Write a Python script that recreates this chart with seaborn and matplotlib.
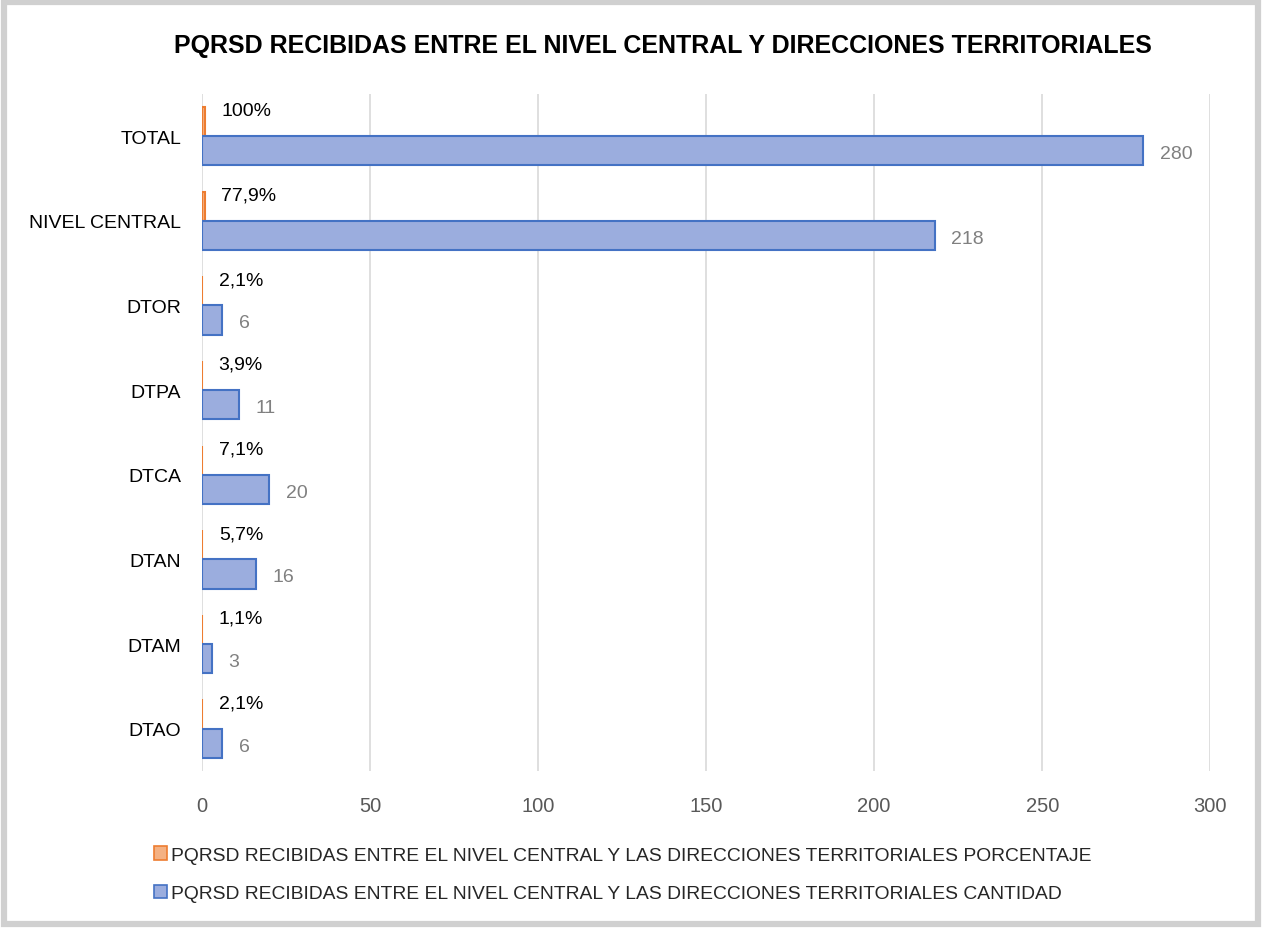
import matplotlib
matplotlib.use("Agg")
import matplotlib.pyplot as plt
import seaborn as sns
import pandas as pd
from matplotlib.patches import Rectangle, Patch

categorias = ["TOTAL", "NIVEL CENTRAL", "DTOR", "DTPA", "DTCA", "DTAN", "DTAM", "DTAO"]
cantidad = [280, 218, 6, 11, 20, 16, 3, 6]
porcentaje = [1.0, 0.779, 0.021, 0.039, 0.071, 0.057, 0.011, 0.021]
etiq_pct = ["100%", "77,9%", "2,1%", "3,9%", "7,1%", "5,7%", "1,1%", "2,1%"]
serie_pct = "PQRSD RECIBIDAS ENTRE EL NIVEL CENTRAL Y LAS DIRECCIONES TERRITORIALES PORCENTAJE"
serie_cant = "PQRSD RECIBIDAS ENTRE EL NIVEL CENTRAL Y LAS DIRECCIONES TERRITORIALES CANTIDAD"

df = pd.DataFrame({
    "cat": categorias * 2,
    "valor": porcentaje + cantidad,
    "serie": [serie_pct] * len(categorias) + [serie_cant] * len(categorias),
})

sns.set_style("white")
plt.rcParams['font.family'] = ['Liberation Sans', 'DejaVu Sans']

fig = plt.figure(figsize=(12.62, 9.29), dpi=100)
ax = fig.add_axes([0.160, 0.169, 0.799, 0.729])

colores = {serie_pct: "#f4b183", serie_cant: "#9badde"}
bordes = {serie_pct: "#ed7d31", serie_cant: "#4472c4"}

sns.barplot(data=df, y="cat", x="valor", hue="serie", hue_order=[serie_pct, serie_cant],
            order=categorias, palette=colores, width=0.69, orient="h", ax=ax,
            legend=False, saturation=1)

for cont, serie in zip(ax.containers, [serie_pct, serie_cant]):
    for b in cont:
        b.set_edgecolor(bordes[serie])
        b.set_linewidth(1.5)

# etiquetas de datos
for b, t in zip(ax.containers[0], etiq_pct):
    ax.annotate(t, (b.get_x() + b.get_width(), b.get_y() + b.get_height() / 2),
                xytext=(12, 8), textcoords="offset points", ha="left", va="center",
                fontsize=14, color="black")
for b, v in zip(ax.containers[1], cantidad):
    ax.annotate(str(v), (b.get_x() + b.get_width(), b.get_y() + b.get_height() / 2),
                xytext=(12, -2), textcoords="offset points", ha="left", va="center",
                fontsize=14, color="#808080")

ax.set_xlim(0, 300)
ax.set_xticks(range(0, 301, 50))
ax.grid(axis="x", color="#d9d9d9", linewidth=1.2)
ax.set_axisbelow(True)
for s in ax.spines.values():
    s.set_visible(False)
ax.set_xlabel("")
ax.set_ylabel("")
ax.tick_params(axis="x", colors="#595959", labelsize=14.5, length=0, pad=18)
ax.tick_params(axis="y", colors="black", labelsize=14, length=0, pad=15)

fig.text(0.5255, 0.951, "PQRSD RECIBIDAS ENTRE EL NIVEL CENTRAL Y DIRECCIONES TERRITORIALES",
         ha="center", va="center", fontsize=18, fontweight="bold", color="black")

handles = [Patch(facecolor=colores[s], edgecolor=bordes[s], linewidth=1.2) for s in [serie_pct, serie_cant]]
fig.legend(handles, [serie_pct, serie_cant], loc="upper left", bbox_to_anchor=(0.122, 0.088),
           frameon=False, fontsize=13.85, handlelength=0.7, handleheight=0.7,
           handletextpad=0.2, labelspacing=1.1, borderaxespad=0, borderpad=0)

fig.patches.append(Rectangle((0.003, 0.004), 0.994, 0.993, transform=fig.transFigure,
                             fill=False, edgecolor="#d0d0d0", linewidth=4.5, zorder=-1))

fig.savefig("out.png", dpi=100, facecolor="white")
